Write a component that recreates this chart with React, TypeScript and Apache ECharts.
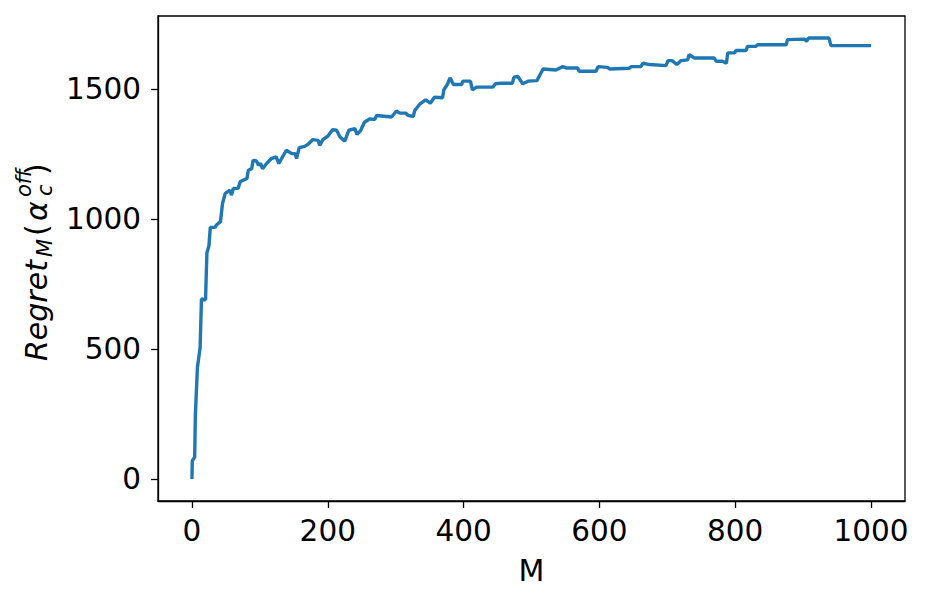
import React, { useEffect, useRef } from "react";
import * as echarts from "echarts";

const mValues = [
  0, 0.5, 4, 5, 8, 12, 14, 20, 22, 25, 27, 34, 36, 42, 45, 49, 56, 58, 61, 68,
  71, 81, 83, 88, 90, 95, 98, 101, 104, 110, 117, 124, 128, 132, 139, 147, 152, 154, 158, 166,
  171, 178, 186, 188, 193, 200, 207, 213, 218, 225, 231, 240, 243, 248, 254, 262, 269, 272, 294, 301,
  306, 315, 318, 326, 328, 336, 344, 351, 357, 369, 371, 376, 380, 385, 397, 399, 410, 413, 419, 443,
  447, 455, 472, 474, 480, 487, 495, 508, 517, 536, 546, 551, 568, 570, 595, 598, 612, 615, 644, 647,
  661, 664, 674, 698, 701, 707, 714, 720, 730, 732, 740, 769, 772, 781, 787, 789, 799, 801, 816, 818,
  830, 833, 875, 877, 902, 905, 908, 938, 941, 1000,
];

const regretValues = [
  0, 70, 84, 243, 428, 505, 693, 690, 870, 898, 969, 969, 978, 991, 1061, 1100, 1112, 1093, 1119, 1119,
  1145, 1157, 1189, 1195, 1227, 1225, 1208, 1215, 1195, 1215, 1234, 1240, 1215, 1234, 1266, 1253, 1253, 1234, 1276, 1281,
  1289, 1307, 1304, 1285, 1308, 1320, 1345, 1343, 1317, 1301, 1343, 1349, 1327, 1340, 1374, 1387, 1384, 1400, 1394, 1417,
  1409, 1409, 1400, 1396, 1419, 1445, 1460, 1447, 1470, 1468, 1499, 1519, 1545, 1519, 1519, 1532, 1532, 1499, 1509, 1509,
  1522, 1524, 1524, 1547, 1550, 1522, 1532, 1534, 1579, 1575, 1588, 1583, 1583, 1570, 1570, 1588, 1585, 1579, 1582, 1588,
  1588, 1601, 1596, 1592, 1611, 1611, 1596, 1611, 1614, 1634, 1621, 1621, 1609, 1609, 1601, 1641, 1641, 1650, 1650, 1666,
  1666, 1672, 1672, 1692, 1694, 1685, 1698, 1698, 1669, 1669,
];

const xTicks = [0, 200, 400, 600, 800, 1000];
const yTicks = [0, 500, 1000, 1500];

const FONT = "DejaVu Sans";

export default function App() {
  const ref = useRef<HTMLDivElement>(null);

  useEffect(() => {
    if (!ref.current) return;
    const chart = echarts.init(ref.current, null, { renderer: "svg" });
    const data = mValues.map((m, i) => [m, regretValues[i]]);
    const labelSize = 30;
    const subSize = 21;
    const t = (text: string, lx: number, ly: number, size: number, italic: boolean) => ({
      type: "text",
      x: lx,
      y: ly,
      style: {
        text,
        fill: "#000",
        font: `${italic ? "italic " : ""}${size}px '${FONT}'`,
        align: "left",
        verticalAlign: "middle",
      },
    });
    chart.setOption({
      animation: false,
      backgroundColor: "#fff",
      grid: {
        left: 158,
        top: 16,
        width: 747,
        height: 485,
        show: true,
        borderColor: "#000",
        borderWidth: 1.3,
        backgroundColor: "transparent",
      },
      xAxis: {
        type: "value",
        min: -50,
        max: 1050,
        name: "M",
        nameLocation: "middle",
        nameGap: 54,
        nameTextStyle: { fontFamily: FONT, fontSize: 30, color: "#000" },
        axisLine: { show: true, onZero: false, lineStyle: { color: "#000", width: 1.3 } },
        axisTick: { show: true, length: 7, customValues: xTicks, lineStyle: { color: "#000", width: 1.3 } },
        axisLabel: {
          customValues: xTicks,
          margin: 15,
          fontFamily: FONT,
          fontSize: 29.5,
          color: "#000",
          formatter: (v: number) => String(v),
        },
        splitLine: { show: false },
      },
      yAxis: {
        type: "value",
        min: -85,
        max: 1783,
        axisLine: { show: true, onZero: false, lineStyle: { color: "#000", width: 1.3 } },
        axisTick: { show: true, length: 7, customValues: yTicks, lineStyle: { color: "#000", width: 1.3 } },
        axisLabel: {
          customValues: yTicks,
          margin: 17,
          fontFamily: FONT,
          fontSize: 29.5,
          color: "#000",
          formatter: (v: number) => String(v),
        },
        splitLine: { show: false },
      },
      graphic: [
        {
          type: "group",
          x: 0,
          y: 361,
          rotation: Math.PI / 2,
          children: [
            t("Regret", 0, 36, labelSize, true),
            t("M", 104, 45, subSize, true),
            t("(", 125, 36, labelSize, false),
            t("α", 140, 36, labelSize, true),
            t("c", 165, 45, subSize, true),
            t("off", 164, 24, subSize, true),
            t(")", 186, 36, labelSize, false),
          ],
        },
      ],
      series: [
        {
          type: "line",
          data,
          showSymbol: false,
          symbol: "none",
          lineStyle: { color: "#1f77b4", width: 3.4 },
          clip: false,
        },
      ],
    });
    return () => chart.dispose();
  }, []);

  return (
    <div
      ref={ref}
      style={{ position: "fixed", left: 0, top: 0, width: 927, height: 603 }}
    />
  );
}
